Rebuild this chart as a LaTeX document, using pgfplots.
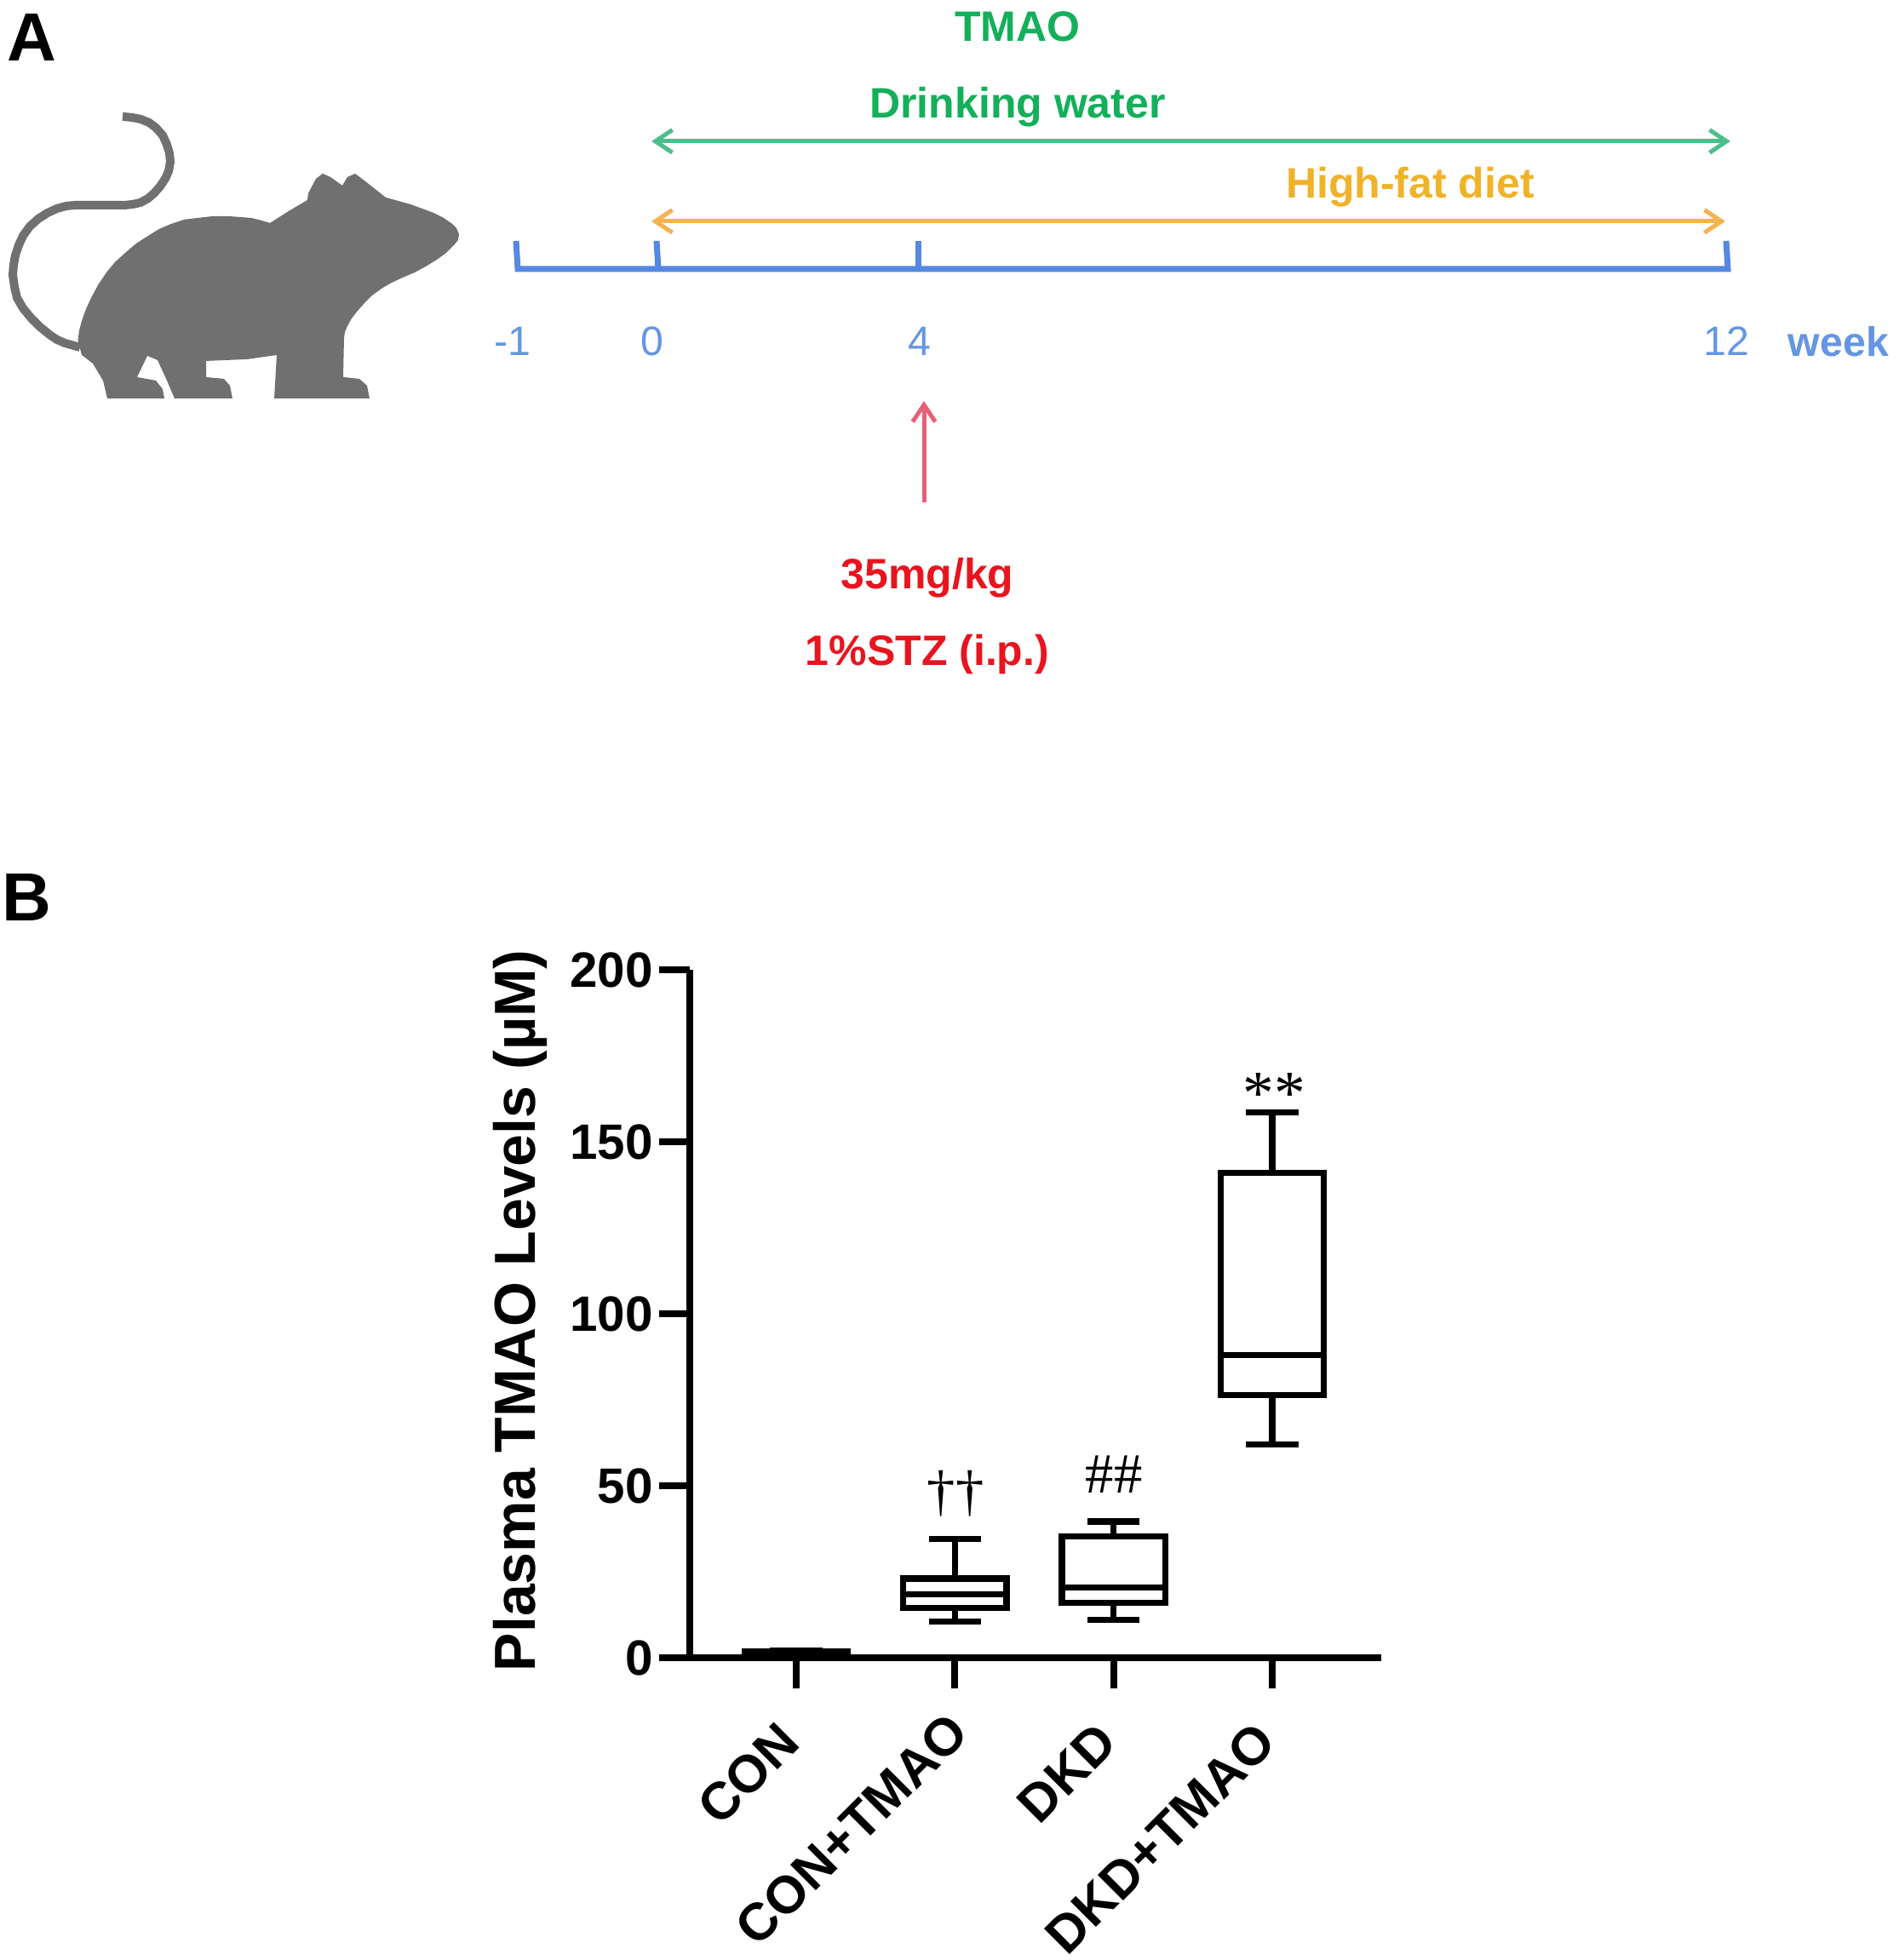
\documentclass[border=0pt]{standalone}
\usepackage{fontspec}
\setmainfont{Liberation Sans}
\newfontfamily\serifmarks{Liberation Serif}
\usepackage{pgfplots}
\pgfplotsset{compat=1.18}
\usepgfplotslibrary{statistics}
\usetikzlibrary{arrows.meta}
\definecolor{mouse}{RGB}{112,112,112}
\definecolor{tlblue}{RGB}{84,136,226}
\definecolor{txtblue}{RGB}{100,150,226}
\definecolor{arrgreen}{RGB}{76,190,140}
\definecolor{txtgreen}{RGB}{20,175,90}
\definecolor{arrorange}{RGB}{245,178,80}
\definecolor{txtorange}{RGB}{240,178,40}
\definecolor{arrred}{RGB}{232,96,120}
\definecolor{txtred}{RGB}{232,20,30}
\pgfplotstableread{
x y
91.5 400
93 388
96 377
101 363
107 350
115 335
125 320
135 308
147 297
160 286
174 277
187 269
201 263
216 258
232 256
250 254
268 254
282 255
295 256
307 259
317 262
339 248
361 235
362 227
371 210
379 204
388 208
402 218
408 208
417 204
429 213
453 232
482 240
509 250
521 256
531 263
536 268
539 275
538 282
533 288
524 297
513 305
500 313
487 320
473 326
460 332
448 339
437 347
428 356
420 365
413 374
408 383
405 390
404 397
403 443
422 445
431 453
434 468
322 468
325 417
290 422
242 424
242 443
263 445
270 453
273 468
205 468
196 447
185 423
173 418
161 443
183 447
191 457
193 468
126 468
121 447
109 427
96 417
}\mousebody
\pgfplotstableread{
x y
144 137
155 138
165 140
175 144
183 150
191 159
196 170
199 180
200 190
198 201
194 210
188 219
181 227
174 233
165 238
156 240
147 241
89 241
78 242
67 245
56 250
45 257
35 266
27 277
22 288
18 300
16 311
15 323
17 337
20 350
27 362
36 373
47 384
58 393
67 399
76 403
94 408
}\mousetail
\begin{document}
\begin{tikzpicture}
\useasboundingbox (0,0) rectangle (669pt,690.6pt);
\begin{axis}[at={(0,0)},anchor=south west,scale only axis,width=669pt,height=690.6pt,
  xmin=0,xmax=2230,ymin=0,ymax=2302,y dir=reverse,hide axis,clip=false]
\addplot[fill=mouse,draw=none] table {\mousebody};
\addplot[draw=mouse,line width=3pt,no markers] table {\mousetail};
% timeline
\addplot[tlblue,line width=2.1pt,no markers] coordinates {(606,283)(608,316)(2029,316)(2027,283)};
\addplot[tlblue,line width=2.1pt,no markers] coordinates {(771,283)(773,316)};
\addplot[tlblue,line width=2.1pt,no markers] coordinates {(1078,283)(1078,316)};
\addplot[arrgreen,line width=1.5pt,no markers,arrows={Straight Barb[length=6pt,width=8pt]-Straight Barb[length=6pt,width=8pt]}] coordinates {(765,166)(2032,166)};
\addplot[arrorange,line width=1.5pt,no markers,arrows={Straight Barb[length=6pt,width=8pt]-Straight Barb[length=6pt,width=8pt]}] coordinates {(765,260)(2026,260)};
\addplot[arrred,line width=1.5pt,no markers,arrows={-Straight Barb[length=6pt,width=8pt]}] coordinates {(1085,590)(1085,471)};
\node[font=\bfseries\fontsize{24}{24}\selectfont] at (37,44) {A};
\node[font=\bfseries\fontsize{24}{24}\selectfont] at (31,1054) {B};
\node[font=\bfseries\fontsize{15}{15}\selectfont,txtgreen] at (1195,31) {TMAO};
\node[font=\bfseries\fontsize{15}{15}\selectfont,txtgreen] at (1195,126) {Drinking water};
\node[font=\bfseries\fontsize{15}{15}\selectfont,txtorange] at (1656,220) {High-fat diet};
\node[font=\fontsize{14.5}{15}\selectfont,txtblue] at (602,401) {-1};
\node[font=\fontsize{14.5}{15}\selectfont,txtblue] at (766,401) {0};
\node[font=\fontsize{14.5}{15}\selectfont,txtblue] at (1080,401) {4};
\node[font=\fontsize{14.5}{15}\selectfont,txtblue] at (2027,401) {12};
\node[font=\bfseries\fontsize{14.5}{15}\selectfont,txtblue] at (2159,401) {week};
\node[font=\bfseries\fontsize{15}{15}\selectfont,txtred] at (1089,679) {35mg/kg};
\node[font=\bfseries\fontsize{15}{15}\selectfont,txtred] at (1089,769) {1\%STZ (i.p.)};
\node[font=\serifmarks\fontsize{20}{20}\selectfont] at (1122,1754) {††};
\node[font=\serifmarks\fontsize{20}{20}\selectfont] at (1308,1732) {\#\#};
\node[font=\serifmarks\fontsize{22}{22}\selectfont] at (1496,1285) {**};
\end{axis}
\begin{axis}[at={(243pt,106.5pt)},anchor=south west,scale only axis,width=243.6pt,height=242.4pt,
  xmin=-0.67,xmax=3.686,ymin=0,ymax=200,clip=false,
  axis x line=bottom,axis y line=left,axis line style={-,line width=2.3pt},
  xtick={0,1,2,3},xticklabels={CON,CON+TMAO\hspace*{-5pt},DKD,DKD+TMAO},
  ytick={0,50,100,150,200},
  tick style={black,line width=2.3pt},
  major tick length=10.8pt,tick align=outside,
  /pgf/number format/assume math mode=true,
  yticklabel style={font=\bfseries\fontsize{17.5}{18}\selectfont,inner sep=2pt},
  xticklabel style={font=\bfseries\fontsize{18.5}{19}\selectfont,rotate=45,anchor=east,xshift=-12.4pt,yshift=-9.4pt,inner sep=0pt},
  ylabel={Plasma TMAO Levels (µM)},
  y label style={font=\bfseries\fontsize{20.4}{21}\selectfont,at={(axis description cs:0,0.5)},anchor=center,yshift=59.7pt,xshift=1.1pt},
  boxplot/draw direction=y,
]
\addplot+[boxplot prepared={draw position=0,lower whisker=0.8,lower quartile=1,median=1.4,upper quartile=1.8,upper whisker=2,box extend=0.65,whisker extend=0.33},black,solid,line width=2.2pt,mark=none] coordinates {};
\addplot+[boxplot prepared={draw position=1,lower whisker=10.5,lower quartile=14.5,median=18.5,upper quartile=23,upper whisker=34.5,box extend=0.65,whisker extend=0.33},black,solid,line width=2.2pt,mark=none] coordinates {};
\addplot+[boxplot prepared={draw position=2,lower whisker=11,lower quartile=16,median=20.4,upper quartile=35.3,upper whisker=39.6,box extend=0.65,whisker extend=0.33},black,solid,line width=2.2pt,mark=none] coordinates {};
\addplot+[boxplot prepared={draw position=3,lower whisker=62,lower quartile=76.4,median=88,upper quartile=141,upper whisker=158.5,box extend=0.65,whisker extend=0.33},black,solid,line width=2.2pt,mark=none] coordinates {};
\end{axis}
\end{tikzpicture}
\end{document}
